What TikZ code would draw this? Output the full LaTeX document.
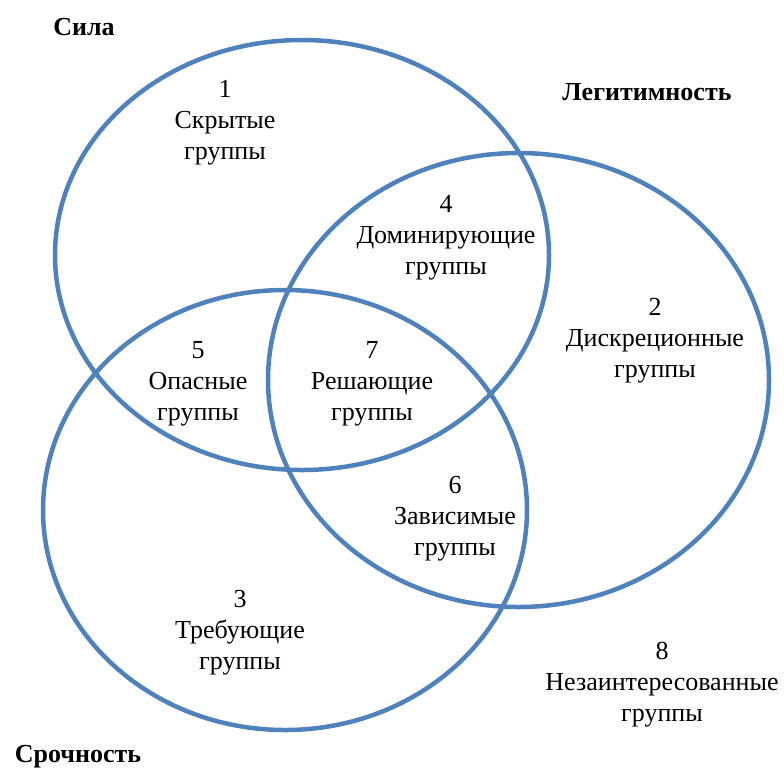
\documentclass[tikz,border=0pt]{standalone}
\usepackage{fontspec}
\setmainfont{Liberation Serif}
\definecolor{vennblue}{RGB}{79,129,189}

\begin{document}
\begin{tikzpicture}[x=1pt, y=-1pt,
    ring/.style={draw=vennblue, line width=4.5pt},
    grp/.style={align=center, font=\fontsize{26}{31}\selectfont},
    ttl/.style={font=\fontsize{26}{31}\selectfont\bfseries}]
    \useasboundingbox (0,0) rectangle (784,769);
    % the three circles
    \draw[ring] (302,255) ellipse [x radius=247pt, y radius=215pt];
    \draw[ring] (518.5,380) ellipse [x radius=250.5pt, y radius=227pt];
    \draw[ring] (285,510) ellipse [x radius=242pt, y radius=220pt];
    % titles
    \node[ttl] (sila) at (84,27) {Сила};
    \node[ttl] (legit) at (647,92) {Легитимность};
    \node[ttl] (sroch) at (78,757) {Срочность};
    % groups
    \node[grp] (g1) at (225,123) {1\\Скрытые\\группы};
    \node[grp] (g2) at (655,341) {2\\Дискреционные\\группы};
    \node[grp] (g3) at (240,633) {3\\Требующие\\группы};
    \node[grp] (g4) at (446,238) {4\\Доминирующие\\группы};
    \node[grp] (g5) at (198,384) {5\\Опасные\\группы};
    \node[grp] (g6) at (455,519) {6\\Зависимые\\группы};
    \node[grp] (g7) at (372,384) {7\\Решающие\\группы};
    \node[grp] (g8) at (662,685) {8\\Незаинтересованные\\группы};
\end{tikzpicture}
\end{document}
